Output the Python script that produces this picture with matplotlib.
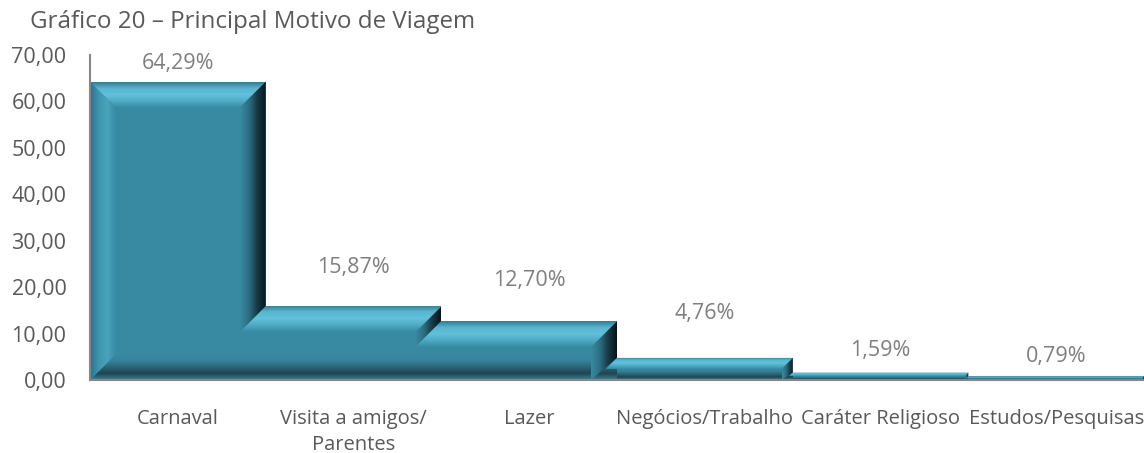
import numpy as np
import matplotlib.pyplot as plt
from matplotlib.patches import Polygon
from matplotlib.colors import LinearSegmentedColormap

plt.rcParams['font.family'] = ['Open Sans', 'DejaVu Sans']

categories = ['Carnaval', 'Visita a amigos/\nParentes', 'Lazer',
              'Negócios/Trabalho', 'Caráter Religioso', 'Estudos/Pesquisas']
values = [64.29, 15.87, 12.70, 4.76, 1.59, 0.79]
labels = ['64,29%', '15,87%', '12,70%', '4,76%', '1,59%', '0,79%']
yticks = [0, 10, 20, 30, 40, 50, 60, 70]
ytick_labels = ['0,00', '10,00', '20,00', '30,00', '40,00', '50,00', '60,00', '70,00']

# label offsets above bar top (points), as Excel placed them
label_offsets = [13, 28, 29.5, 32, 16, 14]

FACE = '#388aa3'
TOP = [FACE, '#4ea9c3', '#63c1db', '#5ab6d0', '#2f7c93']
BOTTOM = ['#3a8699', '#1f4450', '#2c6577', '#36839b', FACE]
LEFT = ['#2c7389', '#3d95ae', '#4aa3bc', FACE]
RIGHT = [FACE, '#2c6f83', '#163a45', '#071519']


def fill_grad(ax, pts, colors, vertical, z=3):
    poly = Polygon(pts, closed=True, facecolor='none', edgecolor='none')
    ax.add_patch(poly)
    xs = [p[0] for p in pts]
    ys = [p[1] for p in pts]
    cmap = LinearSegmentedColormap.from_list('g', colors)
    g = np.linspace(0, 1, 128)
    arr = g.reshape(-1, 1) if vertical else g.reshape(1, -1)
    im = ax.imshow(arr, cmap=cmap, extent=(min(xs), max(xs), min(ys), max(ys)),
                   origin='lower', aspect='auto', interpolation='bilinear', zorder=z)
    im.set_clip_path(poly)


fig = plt.figure(figsize=(11.44, 4.53), dpi=100)
ax = fig.add_axes([90 / 1144, 1 - 380 / 453, 1054 / 1144, 325 / 453])

n = len(values)
ax.set_xlim(0, n)
ax.set_ylim(0, 70)

# pixel scale of the axes
pxx = 1054 / n
pxy = 325 / 70
bev = 26

bx, by = [], []
for v in values:
    b = min(bev, v * pxy / 2)
    bx.append(b / pxx)
    by.append(b / pxy)

# flat faces
for i, v in enumerate(values):
    ax.add_patch(plt.Rectangle((i, 0), 1, v, facecolor=FACE, edgecolor='none', zorder=2))

# bottom bevel band
for i, v in enumerate(values):
    x0, x1 = i, i + 1
    left = x0 + bx[i] if i == 0 else x0
    right = x1 - bx[i] if i == n - 1 else x1
    fill_grad(ax, [(x0, 0), (x1, 0), (right, by[i]), (left, by[i])], BOTTOM, True)

# left bevel of first bar
fill_grad(ax, [(0, 0), (0, values[0]), (bx[0], values[0] - by[0]), (bx[0], by[0])], LEFT, False)

# right bevels
for i, v in enumerate(values):
    x1 = i + 1
    if i < n - 1:
        hn = values[i + 1]
        lo = max(hn - bx[i] * pxx / pxy, 0)
    else:
        hn = 0
        lo = by[i]
    fill_grad(ax, [(x1, v), (x1, hn), (x1 - bx[i], lo), (x1 - bx[i], v - by[i])], RIGHT, False, z=4)

# top bevels
for i, v in enumerate(values):
    x0, x1 = i, i + 1
    left = x0 + bx[i] if i == 0 else x0 - bx[i]
    fill_grad(ax, [(x0, v), (x1, v), (x1 - bx[i], v - by[i]), (left, v - by[i])], TOP, True, z=5)

for i, v in enumerate(values):
    ax.annotate(labels[i], (i + 0.5, v), xytext=(0, label_offsets[i]),
                textcoords='offset points', ha='center', va='center',
                fontsize=15.5, color='#7f7f7f')

ax.set_yticks(yticks)
ax.set_yticklabels(ytick_labels)
ax.set_xticks([i + 0.5 for i in range(n)])
ax.set_xticklabels(categories, linespacing=1.4)
ax.tick_params(axis='y', length=0, pad=17, labelsize=15.5, labelcolor='#595959')
ax.tick_params(axis='x', length=0, pad=21, labelsize=14.5, labelcolor='#595959')

for s in ['top', 'right']:
    ax.spines[s].set_visible(False)
for s in ['left', 'bottom']:
    ax.spines[s].set_color('#868686')
    ax.spines[s].set_linewidth(1.5)
    ax.spines[s].set_zorder(6)

fig.text(30 / 1144, 1 - 22 / 453, 'Gráfico 20 – Principal Motivo de Viagem',
         fontsize=17.4, color='#595959', va='center', ha='left')

fig.savefig('out.png', dpi=100)
